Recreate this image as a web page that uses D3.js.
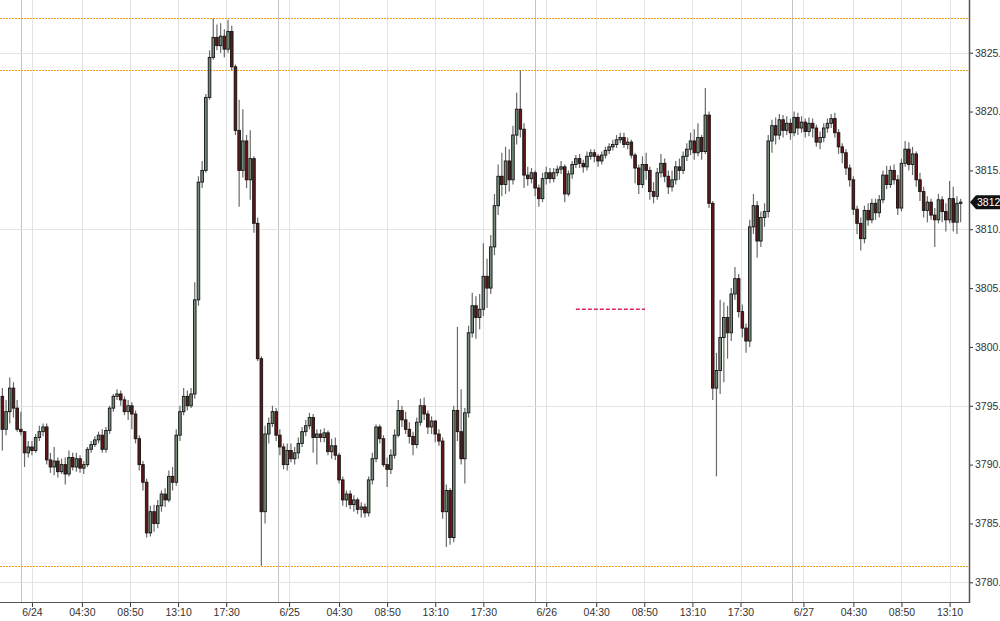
<!DOCTYPE html>
<html><head><meta charset="utf-8">
<script src="https://cdn.jsdelivr.net/npm/d3@7"></script>
<style>
html,body{margin:0;padding:0;background:#fff;overflow:hidden}
svg{display:block}
text{font-family:"Liberation Sans",Arial,sans-serif}
</style></head>
<body><svg id="c" width="1000" height="621"></svg>
<script>
// ---- DATA (20-minute candles; open = previous close) ----
const firstOpen = 3795.8;
const closes = [3793.0,3794.5,3796.5,3794.8,3793.0,3792.8,3791.0,3791.5,3791.2,3792.3,3792.8,3793.2,3790.4,3789.8,3790.3,3789.4,3790.0,3789.2,3790.6,3789.8,
3790.5,3789.7,3790.0,3791.3,3791.7,3792.1,3792.5,3791.3,3792.9,3794.8,3795.8,3796.0,3795.5,3794.5,3795.0,3794.3,3792.2,3790.0,3788.5,3784.2,
3786.0,3785.0,3786.5,3787.5,3787.0,3789.0,3788.5,3792.5,3794.5,3795.8,3795.0,3796.0,3804.0,3814.0,3815.0,3821.2,3824.6,3826.3,3825.6,3826.4,
3825.3,3826.8,3823.8,3818.4,3815.0,3817.5,3814.2,3816.0,3810.5,3799.0,3786.0,3792.6,3793.5,3794.5,3792.5,3791.5,3790.0,3791.2,3790.5,3791.0,
3791.8,3792.8,3793.3,3794.0,3792.3,3792.6,3792.3,3792.7,3791.1,3791.6,3790.8,3788.7,3787.0,3787.5,3786.6,3787.0,3786.2,3786.4,3785.9,3788.7,
3790.5,3793.2,3792.2,3790.0,3789.6,3790.8,3792.5,3794.6,3793.8,3793.0,3792.4,3791.7,3793.6,3795.0,3794.3,3793.2,3793.7,3792.6,3792.0,3786.0,
3787.8,3783.8,3794.6,3792.8,3790.5,3794.4,3801.2,3803.5,3802.5,3803.2,3806.0,3805.0,3808.5,3812.0,3814.5,3813.8,3815.8,3814.2,3818.0,3820.2,
3818.5,3814.6,3814.3,3814.8,3813.5,3812.6,3814.3,3814.8,3814.3,3814.8,3815.1,3815.3,3813.0,3814.7,3815.5,3816.0,3815.6,3815.3,3816.2,3816.5,
3816.2,3815.8,3816.3,3816.7,3817.0,3817.2,3817.6,3817.8,3817.2,3817.4,3816.3,3815.2,3813.8,3815.5,3815.0,3813.2,3812.8,3814.8,3815.6,3814.5,
3813.6,3814.2,3815.3,3815.0,3816.2,3816.8,3817.5,3816.5,3817.8,3816.6,3819.7,3812.2,3796.5,3798.0,3800.8,3802.5,3801.2,3804.5,3805.8,3803.0,
3801.6,3800.5,3810.2,3812.0,3809.0,3811.0,3811.5,3817.5,3818.8,3818.0,3819.3,3818.4,3819.0,3818.2,3819.5,3818.6,3819.1,3818.3,3819.0,3818.6,
3817.4,3817.8,3818.6,3819.0,3819.4,3818.2,3817.0,3816.5,3815.2,3814.2,3811.7,3810.5,3809.2,3811.6,3810.8,3812.2,3811.4,3812.5,3814.6,3813.8,
3815.0,3814.2,3811.8,3815.6,3816.8,3815.5,3816.4,3814.2,3813.2,3811.6,3812.3,3811.2,3810.8,3812.5,3811.5,3810.8,3812.6,3810.6,3812.2,3812.3];
const highs = [3796.5,3795.5,3797.4,3797.0,3795.5,3794.5,3792.8,3792.0,3792.0,3792.6,3793.3,3793.5,3793.5,3791.0,3791.5,3790.6,3790.5,3790.6,3791.2,3791.0,
3791.0,3790.8,3790.3,3791.5,3792.0,3792.4,3792.8,3793.0,3793.2,3795.0,3796.0,3796.4,3796.3,3795.8,3795.5,3795.3,3794.6,3792.5,3790.3,3788.8,
3786.5,3786.6,3787.0,3787.8,3788.0,3789.5,3789.8,3793.0,3795.0,3796.5,3796.3,3796.5,3805.5,3814.5,3815.8,3821.5,3825.2,3827.9,3827.4,3827.5,
3827.0,3827.8,3827.3,3824.0,3821.0,3820.2,3818.0,3818.4,3816.2,3811.0,3799.2,3793.3,3794.0,3795.0,3794.8,3793.0,3791.8,3791.8,3791.8,3791.5,
3792.3,3793.2,3793.8,3794.4,3794.3,3793.0,3793.0,3793.1,3792.9,3792.2,3792.3,3791.0,3789.0,3787.8,3787.8,3787.4,3787.2,3786.8,3786.7,3789.0,
3791.0,3793.4,3793.4,3792.5,3790.6,3791.3,3793.0,3795.5,3795.0,3794.5,3793.6,3792.8,3794.0,3795.6,3795.7,3794.6,3794.1,3793.8,3793.0,3792.3,
3788.3,3788.0,3795.0,3801.7,3796.4,3794.8,3801.8,3804.6,3804.3,3804.5,3808.8,3807.5,3809.5,3813.0,3815.5,3816.5,3817.0,3816.8,3818.8,3821.6,
3823.5,3819.0,3815.3,3815.2,3815.0,3813.8,3814.8,3815.3,3815.2,3815.2,3815.4,3815.8,3815.5,3815.0,3815.8,3816.3,3816.4,3815.9,3816.6,3816.8,
3816.8,3816.4,3816.6,3817.0,3817.3,3817.6,3818.0,3818.2,3818.2,3817.8,3817.6,3816.5,3815.5,3816.2,3816.5,3815.3,3814.0,3815.2,3816.4,3816.0,
3815.0,3815.0,3815.8,3816.0,3816.6,3817.3,3818.2,3818.5,3819.0,3818.0,3822.0,3820.0,3812.4,3799.5,3804.0,3803.8,3803.5,3805.0,3806.8,3806.2,
3803.6,3802.0,3810.8,3813.0,3812.4,3811.5,3812.2,3818.0,3819.3,3819.5,3819.8,3819.7,3819.6,3819.4,3820.0,3819.9,3819.6,3819.4,3819.5,3819.4,
3818.9,3818.3,3819.0,3819.4,3819.8,3819.9,3818.5,3817.3,3816.8,3815.5,3814.5,3812.0,3811.0,3812.0,3812.2,3812.6,3812.6,3812.9,3815.0,3815.4,
3815.4,3815.5,3814.6,3816.0,3817.5,3817.4,3817.0,3816.6,3814.8,3813.6,3812.8,3812.6,3811.8,3813.0,3812.8,3812.2,3814.1,3813.6,3812.8,3812.6];
const lows = [3791.2,3792.5,3793.5,3794.0,3792.8,3792.5,3789.8,3790.6,3790.8,3791.0,3792.0,3792.4,3790.0,3789.3,3789.1,3788.9,3789.2,3788.3,3789.0,3789.5,
3789.4,3789.3,3789.2,3789.8,3791.0,3791.5,3791.8,3791.0,3791.0,3792.6,3794.5,3795.5,3795.0,3794.2,3793.8,3793.0,3791.8,3789.5,3787.8,3783.8,
3783.9,3784.3,3784.6,3786.0,3786.4,3786.8,3787.8,3788.2,3792.0,3794.2,3794.6,3794.8,3795.6,3803.5,3813.5,3814.8,3821.0,3824.4,3825.2,3825.0,
3824.6,3825.0,3823.5,3818.0,3811.9,3814.4,3813.5,3812.5,3809.7,3798.8,3781.4,3785.0,3791.8,3793.2,3792.0,3790.8,3789.6,3789.5,3790.2,3790.0,
3790.5,3791.5,3792.4,3793.0,3791.0,3790.0,3791.9,3791.9,3790.8,3790.5,3790.4,3788.4,3786.5,3786.4,3786.2,3786.0,3785.8,3785.5,3785.5,3785.6,
3788.3,3790.2,3791.8,3789.8,3788.1,3789.2,3790.5,3792.3,3793.2,3792.6,3791.8,3790.8,3791.4,3793.3,3793.8,3792.6,3792.6,3791.9,3791.6,3785.4,
3783.0,3783.2,3783.4,3792.0,3790.0,3788.4,3794.0,3800.8,3800.7,3801.5,3802.6,3803.3,3804.5,3807.8,3811.2,3812.8,3813.0,3813.2,3813.8,3817.2,
3817.8,3813.5,3813.7,3813.9,3812.8,3811.9,3812.3,3813.8,3813.9,3814.0,3814.5,3814.7,3812.3,3812.8,3814.3,3815.2,3815.2,3814.8,3815.0,3815.9,
3815.7,3815.3,3815.5,3816.0,3816.4,3816.7,3816.9,3817.3,3816.9,3816.8,3816.0,3813.9,3813.0,3813.5,3814.2,3812.5,3812.2,3812.5,3814.4,3814.0,
3813.0,3813.2,3813.8,3814.2,3814.7,3815.8,3816.3,3815.9,3816.2,3815.9,3816.4,3811.8,3795.5,3789.0,3796.0,3797.0,3799.0,3800.5,3804.0,3802.5,
3800.8,3799.5,3800.0,3809.6,3807.6,3808.5,3810.2,3811.0,3816.5,3817.2,3817.6,3817.8,3818.0,3817.6,3817.9,3818.0,3818.2,3817.8,3817.9,3817.8,
3817.0,3816.8,3817.4,3818.2,3818.6,3817.8,3816.4,3815.6,3814.6,3813.6,3811.2,3809.6,3808.2,3808.8,3810.3,3810.5,3810.8,3811.0,3812.2,3813.4,
3813.5,3813.8,3811.2,3811.5,3815.3,3815.0,3814.6,3813.6,3812.4,3811.0,3810.6,3810.8,3808.5,3810.5,3810.6,3809.8,3810.5,3809.8,3809.6,3810.6];

// time axis in 10-minute bar units
const xTickIdx = [17,44,70,96,122,156,183,209,235,261,295,322,348,374,400,434,461,487,513];
const xTickLabels = ["6/24","04:30","08:50","13:10","17:30","6/25","04:30","08:50","13:10","17:30",
                     "6/26","04:30","08:50","13:10","17:30","6/27","04:30","08:50","13:10"];
const sessionIdx = [11,150,289,428];
const yTickValues = [3780,3785,3790,3795,3800,3805,3810,3815,3820,3825];
const yGridValues = [3780,3795,3810,3825];
const levelLines = [3828.0,3823.6,3781.4];
const markerLine = {price:3803.2, from:311, to:348.4};
const lastPrice = 3812.3;
const lastLabel = "3812";

// ---- LAYOUT ----
const plotRight = 969, plotBottom = 602;
const svg = d3.select("#c");
const x = d3.scaleLinear().domain([0, 523.5]).range([0.5, 0.5 + 523.5*1.85]);
const y = d3.scaleLinear().domain([3780, 3825]).range([582.3, 52.7]);
const barIdx = j => 2*j + 1;

const g = svg.append("g");
// grid
g.append("g").selectAll("line").data(xTickIdx).join("line")
  .attr("x1", d=>Math.round(x(d))+0.5).attr("x2", d=>Math.round(x(d))+0.5)
  .attr("y1",0).attr("y2",plotBottom).attr("stroke","#e3e3e3").attr("stroke-width",1);
g.append("g").selectAll("line").data(sessionIdx).join("line")
  .attr("x1", d=>Math.round(x(d))+0.5).attr("x2", d=>Math.round(x(d))+0.5)
  .attr("y1",0).attr("y2",plotBottom).attr("stroke","#c4c4c4").attr("stroke-width",1);
g.append("g").selectAll("line").data(yGridValues).join("line")
  .attr("x1",0).attr("x2",plotRight)
  .attr("y1", d=>Math.round(y(d))+0.5).attr("y2", d=>Math.round(y(d))+0.5)
  .attr("stroke","#e3e3e3").attr("stroke-width",1);

// level lines
g.append("g").selectAll("line").data(levelLines).join("line")
  .attr("x1",0).attr("x2",plotRight)
  .attr("y1", d=>Math.ceil(y(d))+0.5).attr("y2", d=>Math.ceil(y(d))+0.5)
  .attr("stroke","#f0a010").attr("stroke-width",1.1).attr("stroke-dasharray","2,1");

// marker dashed line
g.append("line")
  .attr("x1", x(markerLine.from)).attr("x2", x(markerLine.to))
  .attr("y1", y(markerLine.price)).attr("y2", y(markerLine.price))
  .attr("stroke","#e0245c").attr("stroke-width",1.6).attr("stroke-dasharray","4,2");

// candles
const candles = closes.map((c,j)=>{
  const o = j===0 ? firstOpen : closes[j-1];
  return {j, o, c, h: highs[j], l: lows[j]};
});
const cg = g.append("g");
cg.append("g").selectAll("line").data(candles).join("line")
  .attr("x1", d=>x(barIdx(d.j))).attr("x2", d=>x(barIdx(d.j)))
  .attr("y1", d=>y(Math.max(d.h,d.o,d.c))).attr("y2", d=>y(Math.min(d.l,d.o,d.c)))
  .attr("stroke","#6a6a6a").attr("stroke-width",1.2);
const bw = 2.6;
cg.append("g").selectAll("rect").data(candles).join("rect")
  .attr("x", d=>x(barIdx(d.j)) - bw/2)
  .attr("width", bw)
  .attr("y", d=>y(Math.max(d.o,d.c)))
  .attr("height", d=>Math.max(0.8, Math.abs(y(d.o)-y(d.c))))
  .attr("fill", d=> d.c>=d.o ? "#748b77" : "#621616")
  .attr("stroke","#141414").attr("stroke-width",0.9);

// axes
const xAxis = d3.axisBottom(x).tickValues(xTickIdx).tickFormat((d,i)=>xTickLabels[i]).tickSize(5).tickPadding(2);
const xa = svg.append("g").attr("transform",`translate(0,${plotBottom})`).call(xAxis);
xa.select(".domain").remove();
xa.selectAll("line").attr("stroke","#333");
xa.selectAll("text").attr("font-size",10.5).attr("fill","#333").attr("font-family","Liberation Sans, Arial, sans-serif");
svg.append("line").attr("x1",0).attr("x2",plotRight+1).attr("y1",plotBottom+0.5).attr("y2",plotBottom+0.5)
  .attr("stroke","#555").attr("stroke-width",1.2);

const yAxis = d3.axisRight(y).tickValues(yTickValues).tickFormat(d=>d+".").tickSize(4).tickPadding(2);
const ya = svg.append("g").attr("transform",`translate(${plotRight},0)`).call(yAxis);
ya.select(".domain").remove();
ya.selectAll("line").attr("stroke","#333");
ya.selectAll("text").attr("font-size",10.5).attr("fill","#333").attr("font-family","Liberation Sans, Arial, sans-serif");
svg.append("line").attr("x1",plotRight+0.5).attr("x2",plotRight+0.5).attr("y1",0).attr("y2",plotBottom+1)
  .attr("stroke","#555").attr("stroke-width",1.5);

// last price tag
const ly = y(lastPrice);
svg.append("path")
  .attr("d", `M${plotRight+1},${ly} L${plotRight+7},${ly-7} L1000,${ly-7} L1000,${ly+7} L${plotRight+7},${ly+7} Z`)
  .attr("fill","#111");
svg.append("text").attr("x", plotRight+8).attr("y", ly+3.8).attr("fill","#fff")
  .attr("font-size",10.5).text(lastLabel);
</script></body></html>
